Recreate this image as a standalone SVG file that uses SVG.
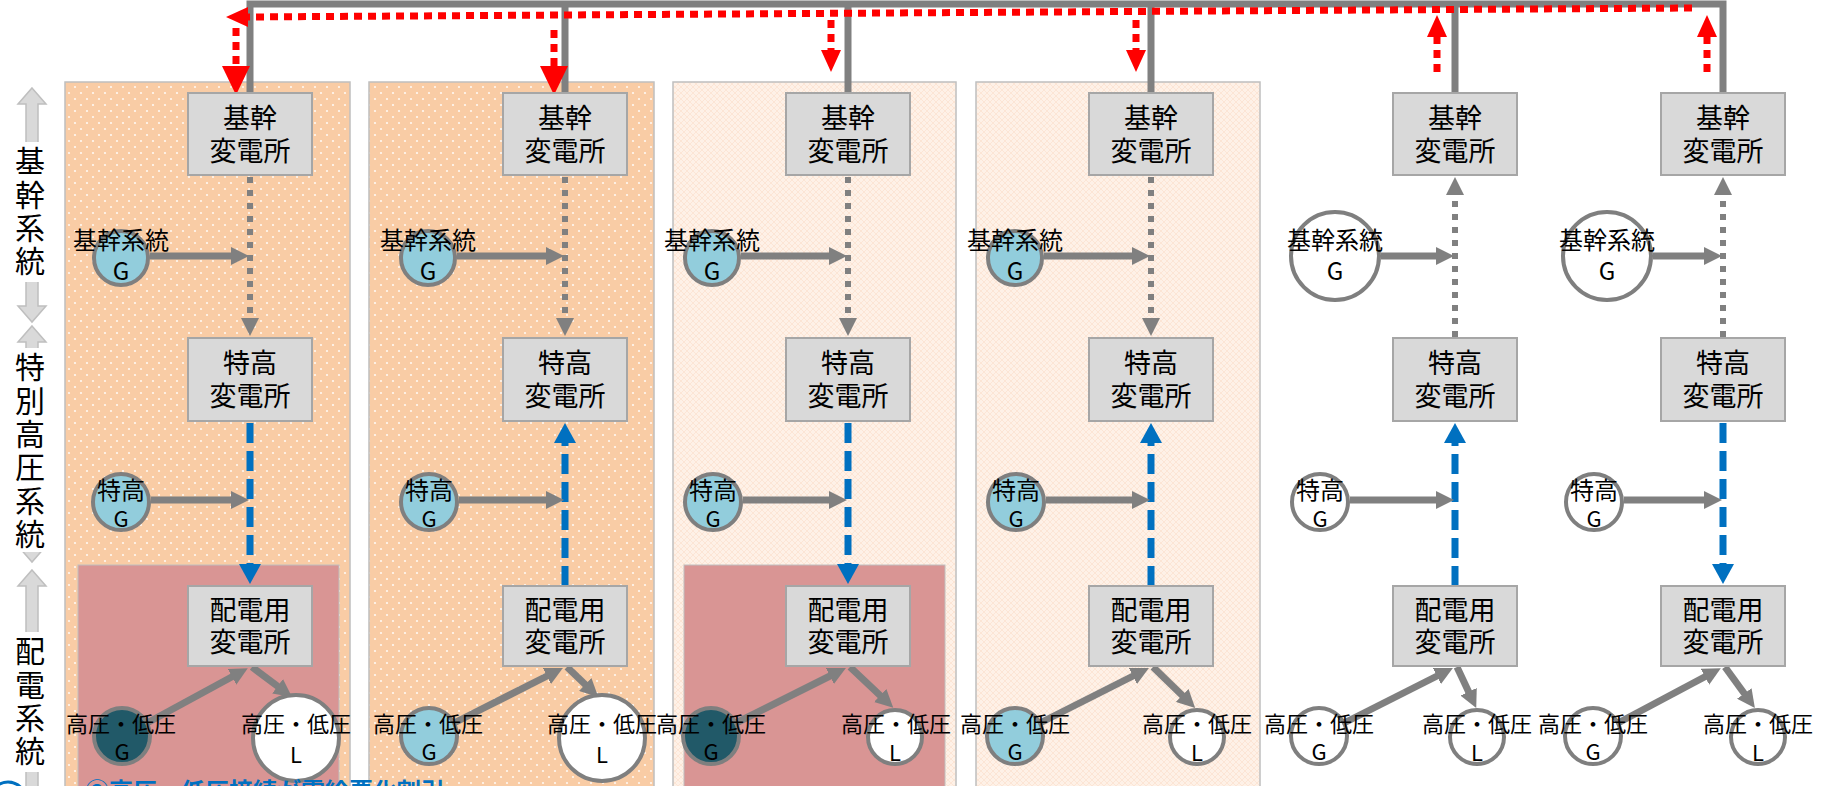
<svg xmlns="http://www.w3.org/2000/svg" width="1835" height="786" viewBox="0 0 1835 786">
<style>
text{font-family:"Noto Sans CJK JP","Noto Sans",sans-serif;fill:#000}
.bt{font-size:27px;text-anchor:middle}
.lb{font-size:24px;text-anchor:middle}
.sm{font-size:22px;text-anchor:middle}
.ax{font-size:30px}
.box{fill:#D9D9D9;stroke:#A6A6A6;stroke-width:2}
.cg{stroke:#7F7F7F;stroke-width:4}
.blue{fill:#92CDDC}
.teal{fill:#215968}
.wh{fill:#fff}
.ga{stroke:#808080;stroke-width:7;fill:none;marker-end:url(#ag)}
.gd{stroke:#808080;stroke-width:6;stroke-dasharray:6 7;fill:none;marker-end:url(#ag)}
.bd{stroke:#0070C0;stroke-width:7;stroke-dasharray:20 8;fill:none;marker-end:url(#ab)}
.rd{stroke:#FF0000;stroke-width:7;stroke-dasharray:8 6;fill:none}
.rh{fill:#FF0000}
.axis{fill:#D9D9D9;stroke:#BFBFBF;stroke-width:1.5}
</style>
<defs>
<pattern id="dots" width="12" height="12" patternUnits="userSpaceOnUse">
<rect width="12" height="12" fill="#F9CCA5"/>
<circle cx="3" cy="3" r="1.1" fill="#fff" fill-opacity="0.85"/>
<circle cx="9" cy="9" r="1.1" fill="#fff" fill-opacity="0.85"/>
</pattern>
<pattern id="lattice" width="6" height="6" patternUnits="userSpaceOnUse">
<rect width="6" height="6" fill="#FEF1E7"/>
<path d="M0,0 L6,6 M6,0 L0,6" stroke="#FBE2D0" stroke-width="0.8"/>
</pattern>
<marker id="ag" markerUnits="userSpaceOnUse" markerWidth="18" markerHeight="18" refX="8" refY="9" orient="auto"><path d="M0,0 L18,9 L0,18 z" fill="#808080"/></marker>
<marker id="ab" markerUnits="userSpaceOnUse" markerWidth="20" markerHeight="22" refX="8" refY="11" orient="auto"><path d="M0,0 L20,11 L0,22 z" fill="#0070C0"/></marker>
</defs>

<g id="panels">
<rect x="65" y="82" width="285" height="720" fill="url(#dots)" stroke="#BFBFBF" stroke-width="1.5"/>
<rect x="369" y="82" width="285" height="720" fill="url(#dots)" stroke="#BFBFBF" stroke-width="1.5"/>
<rect x="673" y="82" width="283" height="720" fill="url(#lattice)" stroke="#BFBFBF" stroke-width="1.5"/>
<rect x="976" y="82" width="284" height="720" fill="url(#lattice)" stroke="#BFBFBF" stroke-width="1.5"/>
<rect x="78" y="565" width="261" height="240" fill="#D99594" stroke="#BFBFBF" stroke-width="1"/>
<rect x="684" y="565" width="261" height="240" fill="#D99594" stroke="#BFBFBF" stroke-width="1"/>
</g>

<g id="axis">
<polygon class="axis" points="32,88 46,104 38,104 38,306 46,306 32,322 18,306 26,306 26,104 18,104"/>
<polygon class="axis" points="32,326 46,342 38,342 38,546 46,546 32,562 18,546 26,546 26,342 18,342"/>
<polygon class="axis" points="32,570 46,586 38,586 38,790 46,790 32,806 18,790 26,790 26,586 18,586"/>
<rect x="14" y="142" width="34" height="140" fill="#fff"/>
<rect x="14" y="348" width="34" height="204" fill="#fff"/>
<rect x="14" y="632" width="34" height="140" fill="#fff"/>
<text class="ax" x="30" y="146" writing-mode="vertical-rl" letter-spacing="3.3">基幹系統</text>
<text class="ax" x="30" y="352" writing-mode="vertical-rl" letter-spacing="3.3">特別高圧系統</text>
<text class="ax" x="30" y="636" writing-mode="vertical-rl" letter-spacing="3.3">配電系統</text>
</g>

<g id="connectors">
<path d="M250,93 V4 H1723 V93" stroke="#808080" stroke-width="7" fill="none"/>
<path d="M565,4 V93 M848,4 V93 M1151,4 V93 M1455,4 V93" stroke="#808080" stroke-width="7" fill="none"/>
<line class="rd" x1="1692" y1="8" x2="244" y2="17" stroke-width="6.5" stroke-dasharray="7 6"/>
<polygon class="rh" points="226,17 248,7 248,27"/>
<line class="rd" x1="236" y1="28" x2="236" y2="68"/>
<polygon class="rh" points="222,66 250,66 236,95"/>
<line class="rd" x1="554" y1="30" x2="554" y2="68"/>
<polygon class="rh" points="540,66 568,66 554,95"/>
<line class="rd" x1="831" y1="20" x2="831" y2="52"/>
<polygon class="rh" points="821,50 841,50 831,72"/>
<line class="rd" x1="1136" y1="20" x2="1136" y2="52"/>
<polygon class="rh" points="1126,50 1146,50 1136,72"/>
<line class="rd" x1="1437" y1="72" x2="1437" y2="35"/>
<polygon class="rh" points="1427,37 1447,37 1437,15"/>
<line class="rd" x1="1707" y1="72" x2="1707" y2="35"/>
<polygon class="rh" points="1697,37 1717,37 1707,15"/>

<line class="gd" x1="250" y1="177" x2="250" y2="326"/>
<line class="gd" x1="565" y1="177" x2="565" y2="326"/>
<line class="gd" x1="848" y1="177" x2="848" y2="326"/>
<line class="gd" x1="1151" y1="177" x2="1151" y2="326"/>
<line class="gd" x1="1455" y1="337" x2="1455" y2="187"/>
<line class="gd" x1="1723" y1="337" x2="1723" y2="187"/>

<line class="bd" x1="250" y1="423" x2="250" y2="572"/>
<line class="bd" x1="565" y1="586" x2="565" y2="435"/>
<line class="bd" x1="848" y1="423" x2="848" y2="572"/>
<line class="bd" x1="1151" y1="586" x2="1151" y2="435"/>
<line class="bd" x1="1455" y1="586" x2="1455" y2="435"/>
<line class="bd" x1="1723" y1="423" x2="1723" y2="572"/>

<line class="ga" x1="150" y1="256" x2="239" y2="256"/>
<line class="ga" x1="457" y1="256" x2="554" y2="256"/>
<line class="ga" x1="741" y1="256" x2="837" y2="256"/>
<line class="ga" x1="1044" y1="256" x2="1140" y2="256"/>
<line class="ga" x1="1381" y1="256" x2="1444" y2="256"/>
<line class="ga" x1="1653" y1="256" x2="1712" y2="256"/>

<line class="ga" x1="151" y1="500" x2="239" y2="500"/>
<line class="ga" x1="459" y1="500" x2="554" y2="500"/>
<line class="ga" x1="743" y1="500" x2="837" y2="500"/>
<line class="ga" x1="1046" y1="500" x2="1140" y2="500"/>
<line class="ga" x1="1350" y1="500" x2="1444" y2="500"/>
<line class="ga" x1="1624" y1="500" x2="1712" y2="500"/>

<line class="ga" x1="147" y1="723" x2="239" y2="673"/>
<line class="ga" x1="454" y1="723" x2="554" y2="672.5"/>
<line class="ga" x1="736" y1="723" x2="837" y2="672.5"/>
<line class="ga" x1="1040" y1="723" x2="1140" y2="672.5"/>
<line class="ga" x1="1344" y1="723" x2="1444" y2="672.5"/>
<line class="ga" x1="1618" y1="723" x2="1712" y2="673"/>

<line class="ga" x1="252" y1="667" x2="284" y2="691"/>
<line class="ga" x1="567" y1="667" x2="591" y2="690"/>
<line class="ga" x1="850" y1="667" x2="886" y2="701"/>
<line class="ga" x1="1153" y1="667" x2="1188" y2="701"/>
<line class="ga" x1="1457" y1="667" x2="1472" y2="699"/>
<line class="ga" x1="1725" y1="667" x2="1749" y2="700"/>
</g>

<g id="col1">
<g id="kikan1"><rect class="box" x="188" y="93" width="124" height="82"/><text class="bt" x="250" y="128">基幹</text><text class="bt" x="250" y="161">変電所</text></g>
<g id="tokko1"><rect class="box" x="188" y="338" width="124" height="83"/><text class="bt" x="250" y="373">特高</text><text class="bt" x="250" y="406">変電所</text></g>
<g id="haiden1"><rect class="box" x="188" y="586" width="124" height="80"/><text class="bt" x="250" y="620">配電用</text><text class="bt" x="250" y="652">変電所</text></g>
<g id="kg1"><circle class="cg blue" cx="121" cy="258" r="27"/><text class="lb" x="121" y="249">基幹系統</text><text class="lb" x="121" y="280">G</text></g>
<g id="tg1"><circle class="cg blue" cx="121" cy="502" r="28"/><text class="lb" x="121" y="499">特高</text><text class="sm" x="121" y="527">G</text></g>
<g id="hg1"><circle class="cg teal" cx="122" cy="736" r="28"/><text class="sm" x="121" y="732">高圧・低圧</text><text class="sm" x="122" y="760">G</text></g>
<g id="hl1"><circle class="cg wh" cx="296" cy="738" r="43" stroke-width="5"/><text class="sm" x="296" y="732">高圧・低圧</text><text class="sm" x="296" y="763">L</text></g>
</g>

<g id="col2">
<g id="kikan2"><rect class="box" x="503" y="93" width="124" height="82"/><text class="bt" x="565" y="128">基幹</text><text class="bt" x="565" y="161">変電所</text></g>
<g id="tokko2"><rect class="box" x="503" y="338" width="124" height="83"/><text class="bt" x="565" y="373">特高</text><text class="bt" x="565" y="406">変電所</text></g>
<g id="haiden2"><rect class="box" x="503" y="586" width="124" height="80"/><text class="bt" x="565" y="620">配電用</text><text class="bt" x="565" y="652">変電所</text></g>
<g id="kg2"><circle class="cg blue" cx="428" cy="258" r="27"/><text class="lb" x="428" y="249">基幹系統</text><text class="lb" x="428" y="280">G</text></g>
<g id="tg2"><circle class="cg blue" cx="429" cy="502" r="28"/><text class="lb" x="429" y="499">特高</text><text class="sm" x="429" y="527">G</text></g>
<g id="hg2"><circle class="cg blue" cx="429" cy="736" r="28"/><text class="sm" x="428" y="732">高圧・低圧</text><text class="sm" x="429" y="760">G</text></g>
<g id="hl2"><circle class="cg wh" cx="602" cy="738" r="43" stroke-width="5"/><text class="sm" x="602" y="732">高圧・低圧</text><text class="sm" x="602" y="763">L</text></g>
</g>

<g id="col3">
<g id="kikan3"><rect class="box" x="786" y="93" width="124" height="82"/><text class="bt" x="848" y="128">基幹</text><text class="bt" x="848" y="161">変電所</text></g>
<g id="tokko3"><rect class="box" x="786" y="338" width="124" height="83"/><text class="bt" x="848" y="373">特高</text><text class="bt" x="848" y="406">変電所</text></g>
<g id="haiden3"><rect class="box" x="786" y="586" width="124" height="80"/><text class="bt" x="848" y="620">配電用</text><text class="bt" x="848" y="652">変電所</text></g>
<g id="kg3"><circle class="cg blue" cx="712" cy="258" r="27"/><text class="lb" x="712" y="249">基幹系統</text><text class="lb" x="712" y="280">G</text></g>
<g id="tg3"><circle class="cg blue" cx="713" cy="502" r="28"/><text class="lb" x="713" y="499">特高</text><text class="sm" x="713" y="527">G</text></g>
<g id="hg3"><circle class="cg teal" cx="711" cy="736" r="28"/><text class="sm" x="711" y="732">高圧・低圧</text><text class="sm" x="711" y="760">G</text></g>
<g id="hl3"><circle class="cg wh" cx="895" cy="737" r="27"/><text class="sm" x="896" y="732">高圧・低圧</text><text class="sm" x="895" y="761">L</text></g>
</g>

<g id="col4">
<g id="kikan4"><rect class="box" x="1089" y="93" width="124" height="82"/><text class="bt" x="1151" y="128">基幹</text><text class="bt" x="1151" y="161">変電所</text></g>
<g id="tokko4"><rect class="box" x="1089" y="338" width="124" height="83"/><text class="bt" x="1151" y="373">特高</text><text class="bt" x="1151" y="406">変電所</text></g>
<g id="haiden4"><rect class="box" x="1089" y="586" width="124" height="80"/><text class="bt" x="1151" y="620">配電用</text><text class="bt" x="1151" y="652">変電所</text></g>
<g id="kg4"><circle class="cg blue" cx="1015" cy="258" r="27"/><text class="lb" x="1015" y="249">基幹系統</text><text class="lb" x="1015" y="280">G</text></g>
<g id="tg4"><circle class="cg blue" cx="1016" cy="502" r="28"/><text class="lb" x="1016" y="499">特高</text><text class="sm" x="1016" y="527">G</text></g>
<g id="hg4"><circle class="cg blue" cx="1015" cy="736" r="28"/><text class="sm" x="1015" y="732">高圧・低圧</text><text class="sm" x="1015" y="760">G</text></g>
<g id="hl4"><circle class="cg wh" cx="1197" cy="737" r="27"/><text class="sm" x="1197" y="732">高圧・低圧</text><text class="sm" x="1197" y="761">L</text></g>
</g>

<g id="col5">
<g id="kikan5"><rect class="box" x="1393" y="93" width="124" height="82"/><text class="bt" x="1455" y="128">基幹</text><text class="bt" x="1455" y="161">変電所</text></g>
<g id="tokko5"><rect class="box" x="1393" y="338" width="124" height="83"/><text class="bt" x="1455" y="373">特高</text><text class="bt" x="1455" y="406">変電所</text></g>
<g id="haiden5"><rect class="box" x="1393" y="586" width="124" height="80"/><text class="bt" x="1455" y="620">配電用</text><text class="bt" x="1455" y="652">変電所</text></g>
<g id="kg5"><circle class="cg wh" cx="1335" cy="256" r="44"/><text class="lb" x="1335" y="249">基幹系統</text><text class="lb" x="1335" y="280">G</text></g>
<g id="tg5"><circle class="cg wh" cx="1320" cy="502" r="28"/><text class="lb" x="1320" y="499">特高</text><text class="sm" x="1320" y="527">G</text></g>
<g id="hg5"><circle class="cg wh" cx="1319" cy="736" r="28"/><text class="sm" x="1319" y="732">高圧・低圧</text><text class="sm" x="1319" y="760">G</text></g>
<g id="hl5"><circle class="cg wh" cx="1477" cy="737" r="27"/><text class="sm" x="1477" y="732">高圧・低圧</text><text class="sm" x="1477" y="761">L</text></g>
</g>

<g id="col6">
<g id="kikan6"><rect class="box" x="1661" y="93" width="124" height="82"/><text class="bt" x="1723" y="128">基幹</text><text class="bt" x="1723" y="161">変電所</text></g>
<g id="tokko6"><rect class="box" x="1661" y="338" width="124" height="83"/><text class="bt" x="1723" y="373">特高</text><text class="bt" x="1723" y="406">変電所</text></g>
<g id="haiden6"><rect class="box" x="1661" y="586" width="124" height="80"/><text class="bt" x="1723" y="620">配電用</text><text class="bt" x="1723" y="652">変電所</text></g>
<g id="kg6"><circle class="cg wh" cx="1607" cy="256" r="44"/><text class="lb" x="1607" y="249">基幹系統</text><text class="lb" x="1607" y="280">G</text></g>
<g id="tg6"><circle class="cg wh" cx="1594" cy="502" r="28"/><text class="lb" x="1594" y="499">特高</text><text class="sm" x="1594" y="527">G</text></g>
<g id="hg6"><circle class="cg wh" cx="1593" cy="736" r="28"/><text class="sm" x="1593" y="732">高圧・低圧</text><text class="sm" x="1593" y="760">G</text></g>
<g id="hl6"><circle class="cg wh" cx="1758" cy="737" r="27"/><text class="sm" x="1758" y="732">高圧・低圧</text><text class="sm" x="1758" y="761">L</text></g>
</g>

<g id="footer">
<circle cx="8" cy="800" r="18" fill="none" stroke="#0070C0" stroke-width="3"/>
<text x="85" y="800" style="font-size:24px;font-weight:bold;fill:#0070C0">③高圧・低圧接続が需給悪化割引</text>
</g>
</svg>
